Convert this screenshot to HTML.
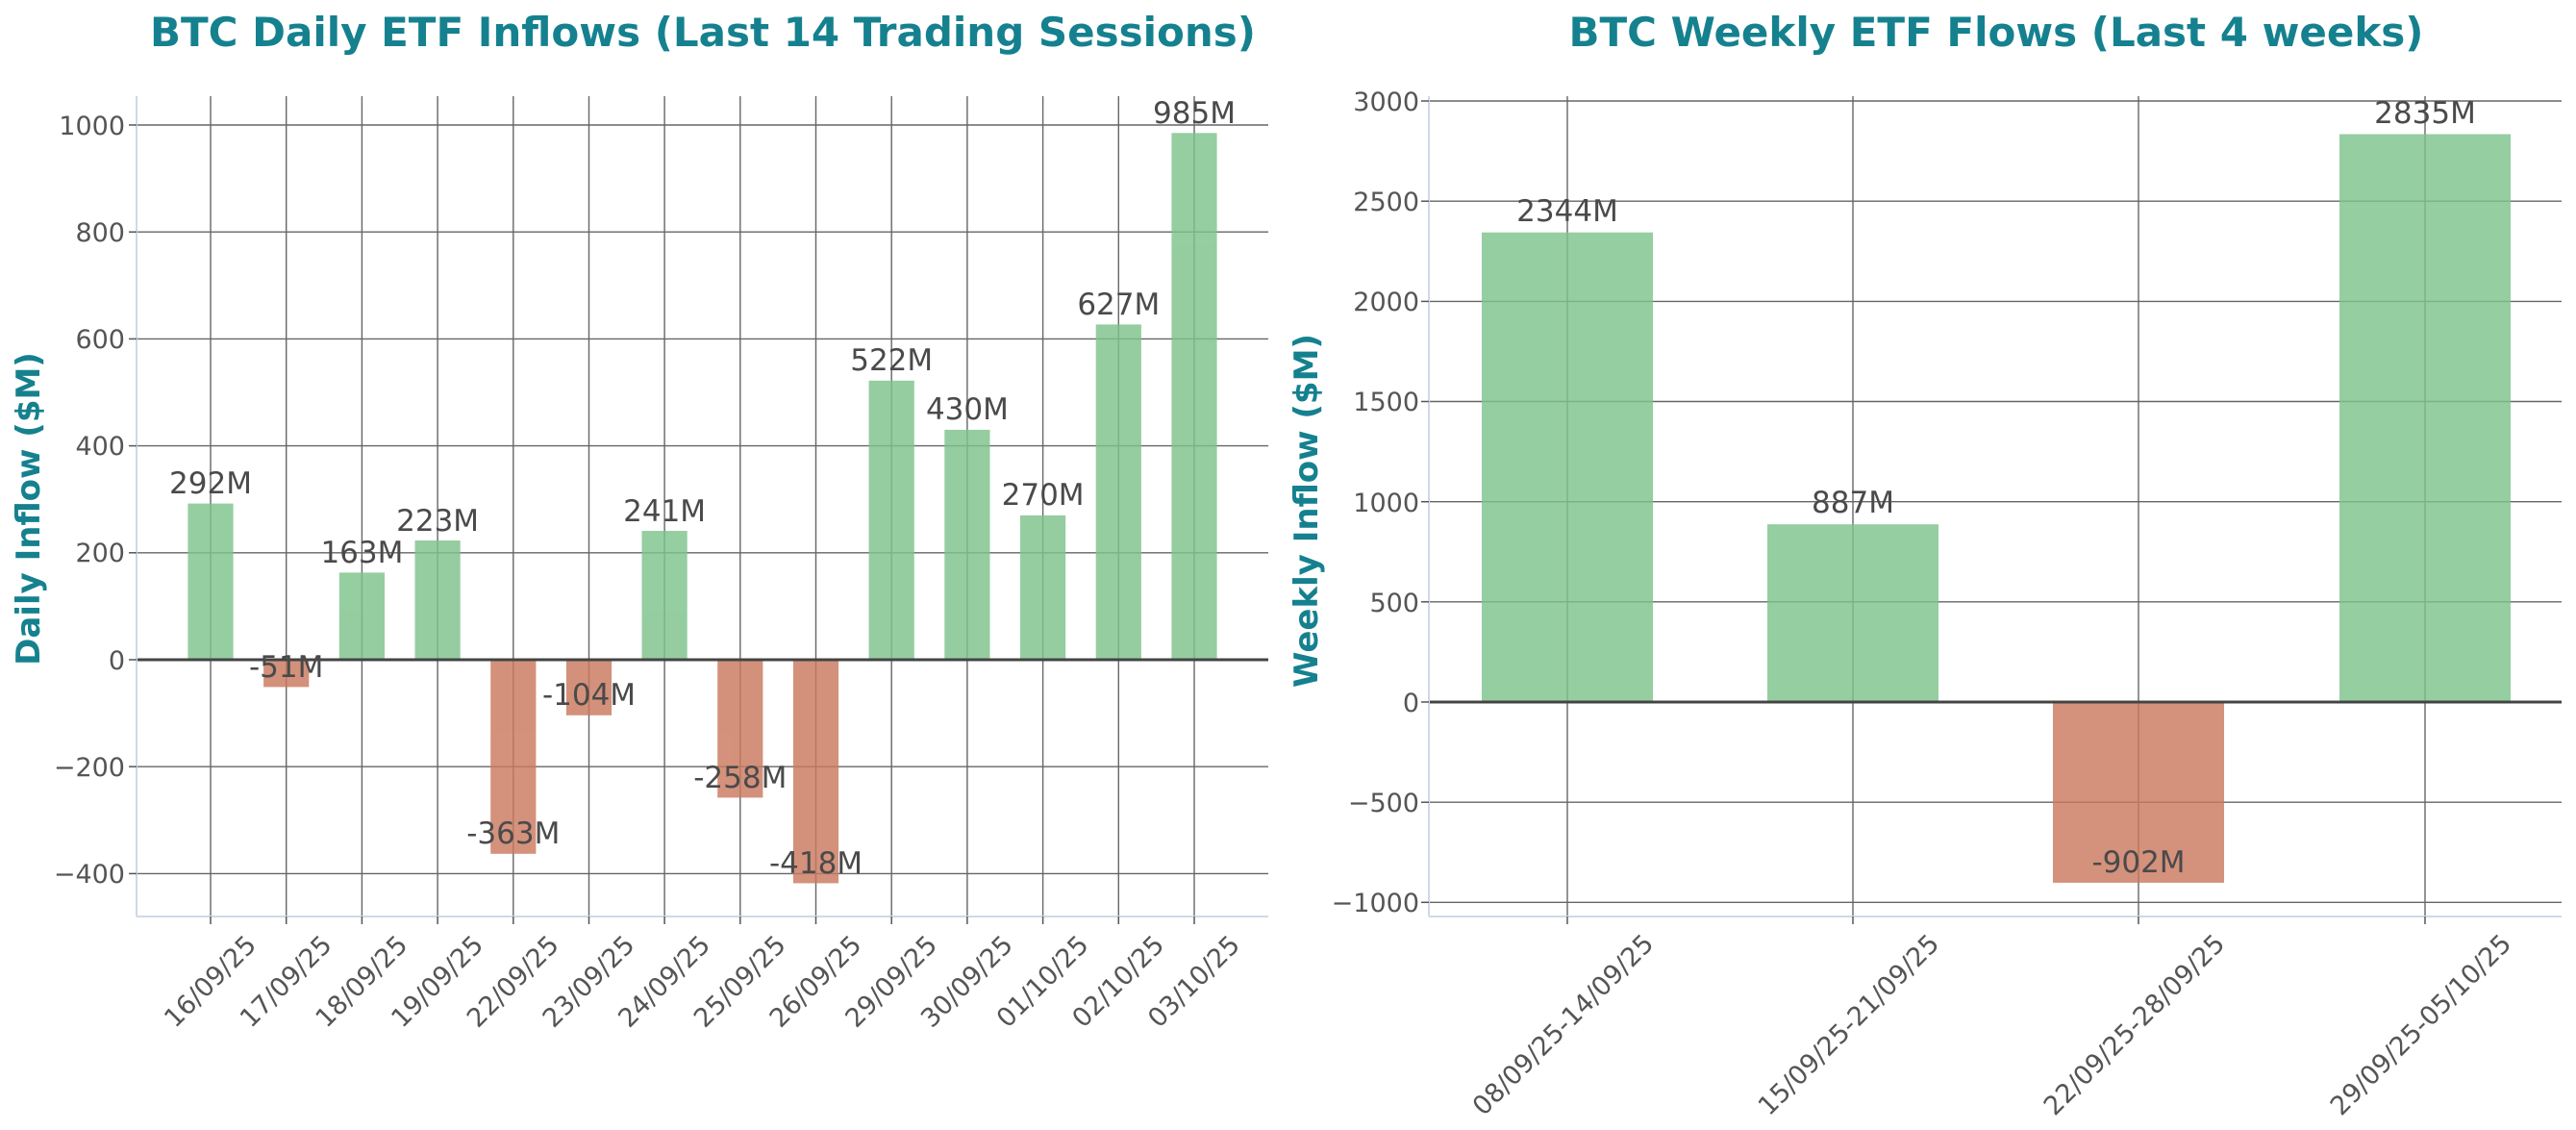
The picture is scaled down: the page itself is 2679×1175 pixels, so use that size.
<!DOCTYPE html>
<html><head><meta charset="utf-8"><style>
html,body{margin:0;padding:0;background:#fff;}
svg{display:block;font-family:"DejaVu Sans","Liberation Sans",sans-serif;}
</style></head><body>
<svg width="2679" height="1175" viewBox="0 0 2679 1175" xmlns="http://www.w3.org/2000/svg">
<text x="731" y="48" text-anchor="middle" font-size="42" font-weight="bold" fill="#15818f">BTC Daily ETF Inflows (Last 14 Trading Sessions)</text>
<text x="2076" y="48" text-anchor="middle" font-size="42" font-weight="bold" fill="#15818f">BTC Weekly ETF Flows (Last 4 weeks)</text>

<!-- LEFT CHART -->
<g stroke="#666" stroke-width="1.4">
<line x1="142" x2="1319" y1="908.4" y2="908.4"/>
<line x1="142" x2="1319" y1="797.2" y2="797.2"/>
<line x1="142" x2="1319" y1="574.8" y2="574.8"/>
<line x1="142" x2="1319" y1="463.6" y2="463.6"/>
<line x1="142" x2="1319" y1="352.4" y2="352.4"/>
<line x1="142" x2="1319" y1="241.2" y2="241.2"/>
<line x1="142" x2="1319" y1="130" y2="130"/>
<line x1="219" x2="219" y1="100" y2="953"/>
<line x1="297.7" x2="297.7" y1="100" y2="953"/>
<line x1="376.4" x2="376.4" y1="100" y2="953"/>
<line x1="455.1" x2="455.1" y1="100" y2="953"/>
<line x1="533.8" x2="533.8" y1="100" y2="953"/>
<line x1="612.5" x2="612.5" y1="100" y2="953"/>
<line x1="691.1" x2="691.1" y1="100" y2="953"/>
<line x1="769.8" x2="769.8" y1="100" y2="953"/>
<line x1="848.5" x2="848.5" y1="100" y2="953"/>
<line x1="927.2" x2="927.2" y1="100" y2="953"/>
<line x1="1005.9" x2="1005.9" y1="100" y2="953"/>
<line x1="1084.6" x2="1084.6" y1="100" y2="953"/>
<line x1="1163.3" x2="1163.3" y1="100" y2="953"/>
<line x1="1242" x2="1242" y1="100" y2="953"/>
</g>
<g opacity="0.82">
<rect x="195.4" y="523.6" width="47.2" height="162.4" fill="#7ec38c"/>
<rect x="274.1" y="686" width="47.2" height="28.4" fill="#ca795f"/>
<rect x="352.8" y="595.4" width="47.2" height="90.6" fill="#7ec38c"/>
<rect x="431.5" y="562" width="47.2" height="124" fill="#7ec38c"/>
<rect x="510.2" y="686" width="47.2" height="201.8" fill="#ca795f"/>
<rect x="588.9" y="686" width="47.2" height="57.8" fill="#ca795f"/>
<rect x="667.5" y="552" width="47.2" height="134" fill="#7ec38c"/>
<rect x="746.2" y="686" width="47.2" height="143.4" fill="#ca795f"/>
<rect x="824.9" y="686" width="47.2" height="232.4" fill="#ca795f"/>
<rect x="903.6" y="395.8" width="47.2" height="290.2" fill="#7ec38c"/>
<rect x="982.3" y="446.9" width="47.2" height="239.1" fill="#7ec38c"/>
<rect x="1061" y="535.9" width="47.2" height="150.1" fill="#7ec38c"/>
<rect x="1139.7" y="337.4" width="47.2" height="348.6" fill="#7ec38c"/>
<rect x="1218.4" y="138.3" width="47.2" height="547.7" fill="#7ec38c"/>
</g>
<line x1="142" x2="1319" y1="686" y2="686" stroke="#444" stroke-width="3"/>
<line x1="142" x2="142" y1="100" y2="953" stroke="#d0d8e6" stroke-width="2"/>
<line x1="142" x2="1319" y1="953" y2="953" stroke="#d0d8e6" stroke-width="2"/>
<g stroke="#555" stroke-width="1.5">
<line x1="134" x2="142" y1="908.4" y2="908.4"/><line x1="134" x2="142" y1="797.2" y2="797.2"/><line x1="134" x2="142" y1="686" y2="686"/><line x1="134" x2="142" y1="574.8" y2="574.8"/><line x1="134" x2="142" y1="463.6" y2="463.6"/><line x1="134" x2="142" y1="352.4" y2="352.4"/><line x1="134" x2="142" y1="241.2" y2="241.2"/><line x1="134" x2="142" y1="130" y2="130"/>
<line x1="219" x2="219" y1="953" y2="961"/><line x1="297.7" x2="297.7" y1="953" y2="961"/><line x1="376.4" x2="376.4" y1="953" y2="961"/><line x1="455.1" x2="455.1" y1="953" y2="961"/><line x1="533.8" x2="533.8" y1="953" y2="961"/><line x1="612.5" x2="612.5" y1="953" y2="961"/><line x1="691.1" x2="691.1" y1="953" y2="961"/><line x1="769.8" x2="769.8" y1="953" y2="961"/><line x1="848.5" x2="848.5" y1="953" y2="961"/><line x1="927.2" x2="927.2" y1="953" y2="961"/><line x1="1005.9" x2="1005.9" y1="953" y2="961"/><line x1="1084.6" x2="1084.6" y1="953" y2="961"/><line x1="1163.3" x2="1163.3" y1="953" y2="961"/><line x1="1242" x2="1242" y1="953" y2="961"/>
</g>
<g font-size="27" fill="#555" text-anchor="end">
<text x="130" y="918">−400</text><text x="130" y="807">−200</text><text x="130" y="696">0</text><text x="130" y="584">200</text><text x="130" y="473">400</text><text x="130" y="362">600</text><text x="130" y="251">800</text><text x="130" y="140">1000</text>
</g>
<g font-size="27" fill="#555" text-anchor="middle">
<text transform="translate(225,1027) rotate(-45)">16/09/25</text>
<text transform="translate(303.7,1027) rotate(-45)">17/09/25</text>
<text transform="translate(382.4,1027) rotate(-45)">18/09/25</text>
<text transform="translate(461.1,1027) rotate(-45)">19/09/25</text>
<text transform="translate(539.8,1027) rotate(-45)">22/09/25</text>
<text transform="translate(618.5,1027) rotate(-45)">23/09/25</text>
<text transform="translate(697.1,1027) rotate(-45)">24/09/25</text>
<text transform="translate(775.8,1027) rotate(-45)">25/09/25</text>
<text transform="translate(854.5,1027) rotate(-45)">26/09/25</text>
<text transform="translate(933.2,1027) rotate(-45)">29/09/25</text>
<text transform="translate(1011.9,1027) rotate(-45)">30/09/25</text>
<text transform="translate(1090.6,1027) rotate(-45)">01/10/25</text>
<text transform="translate(1169.3,1027) rotate(-45)">02/10/25</text>
<text transform="translate(1248,1027) rotate(-45)">03/10/25</text>
</g>
<g font-size="31" fill="#4a4a4a" text-anchor="middle">
<text x="219" y="513">292M</text>
<text x="297.7" y="704">-51M</text>
<text x="376.4" y="585">163M</text>
<text x="455.1" y="552">223M</text>
<text x="533.8" y="877">-363M</text>
<text x="612.5" y="733">-104M</text>
<text x="691.1" y="542">241M</text>
<text x="769.8" y="819">-258M</text>
<text x="848.5" y="908">-418M</text>
<text x="927.2" y="385">522M</text>
<text x="1005.9" y="436">430M</text>
<text x="1084.6" y="525">270M</text>
<text x="1163.3" y="327">627M</text>
<text x="1242" y="128">985M</text>
</g>
<text transform="translate(41,529) rotate(-90)" text-anchor="middle" font-size="34" font-weight="bold" fill="#15818f">Daily Inflow ($M)</text>

<!-- RIGHT CHART -->
<g stroke="#666" stroke-width="1.4">
<line x1="1486" x2="2664" y1="938.3" y2="938.3"/>
<line x1="1486" x2="2664" y1="834.2" y2="834.2"/>
<line x1="1486" x2="2664" y1="625.8" y2="625.8"/>
<line x1="1486" x2="2664" y1="521.7" y2="521.7"/>
<line x1="1486" x2="2664" y1="417.5" y2="417.5"/>
<line x1="1486" x2="2664" y1="313.4" y2="313.4"/>
<line x1="1486" x2="2664" y1="209.2" y2="209.2"/>
<line x1="1486" x2="2664" y1="105" y2="105"/>
<line x1="1630" x2="1630" y1="100" y2="953"/>
<line x1="1927" x2="1927" y1="100" y2="953"/>
<line x1="2224" x2="2224" y1="100" y2="953"/>
<line x1="2522" x2="2522" y1="100" y2="953"/>
</g>
<g opacity="0.82">
<rect x="1541" y="241.7" width="178" height="488.3" fill="#7ec38c"/>
<rect x="1838" y="545.2" width="178" height="184.8" fill="#7ec38c"/>
<rect x="2135" y="730" width="178" height="187.9" fill="#ca795f"/>
<rect x="2433" y="139.5" width="178" height="590.5" fill="#7ec38c"/>
</g>
<line x1="1486" x2="2664" y1="730" y2="730" stroke="#444" stroke-width="3"/>
<line x1="1486" x2="1486" y1="100" y2="953" stroke="#d0d8e6" stroke-width="2"/>
<line x1="1486" x2="2664" y1="953" y2="953" stroke="#d0d8e6" stroke-width="2"/>
<g stroke="#555" stroke-width="1.5">
<line x1="1478" x2="1486" y1="938.3" y2="938.3"/><line x1="1478" x2="1486" y1="834.2" y2="834.2"/><line x1="1478" x2="1486" y1="730" y2="730"/><line x1="1478" x2="1486" y1="625.8" y2="625.8"/><line x1="1478" x2="1486" y1="521.7" y2="521.7"/><line x1="1478" x2="1486" y1="417.5" y2="417.5"/><line x1="1478" x2="1486" y1="313.4" y2="313.4"/><line x1="1478" x2="1486" y1="209.2" y2="209.2"/><line x1="1478" x2="1486" y1="105" y2="105"/>
<line x1="1630" x2="1630" y1="953" y2="961"/><line x1="1927" x2="1927" y1="953" y2="961"/><line x1="2224" x2="2224" y1="953" y2="961"/><line x1="2522" x2="2522" y1="953" y2="961"/>
</g>
<g font-size="27" fill="#555" text-anchor="end">
<text x="1476" y="948">−1000</text><text x="1476" y="844">−500</text><text x="1476" y="740">0</text><text x="1476" y="636">500</text><text x="1476" y="532">1000</text><text x="1476" y="427">1500</text><text x="1476" y="323">2000</text><text x="1476" y="219">2500</text><text x="1476" y="115">3000</text>
</g>
<g font-size="27" fill="#555" text-anchor="middle">
<text transform="translate(1632,1072) rotate(-45)">08/09/25-14/09/25</text>
<text transform="translate(1929,1072) rotate(-45)">15/09/25-21/09/25</text>
<text transform="translate(2226,1072) rotate(-45)">22/09/25-28/09/25</text>
<text transform="translate(2524,1072) rotate(-45)">29/09/25-05/10/25</text>
</g>
<g font-size="31" fill="#4a4a4a" text-anchor="middle">
<text x="1630" y="230">2344M</text>
<text x="1927" y="533">887M</text>
<text x="2224" y="907">-902M</text>
<text x="2522" y="128">2835M</text>
</g>
<text transform="translate(1370,531) rotate(-90)" text-anchor="middle" font-size="34" font-weight="bold" fill="#15818f">Weekly Inflow ($M)</text>
</svg>
</body></html>
